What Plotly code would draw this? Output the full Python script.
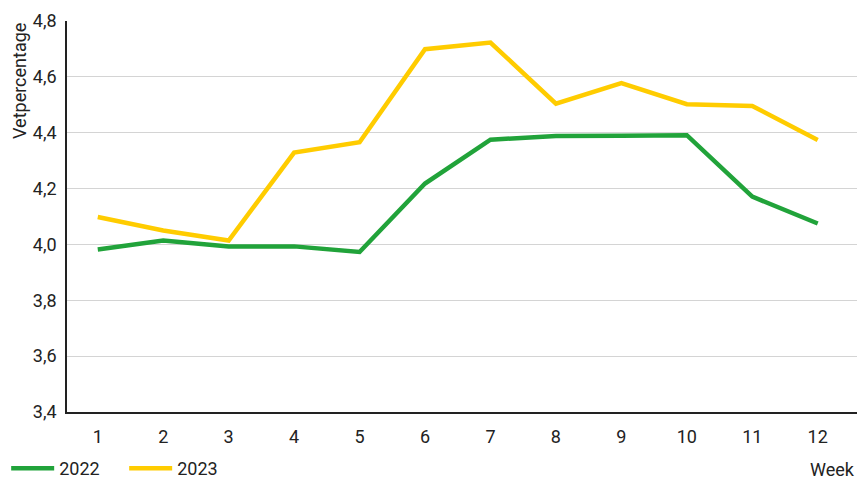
import plotly.graph_objects as go

weeks = list(range(1, 13))
tick_labels = [str(w) for w in weeks]
y_ticks = [3.4, 3.6, 3.8, 4.0, 4.2, 4.4, 4.6, 4.8]
y_tick_labels = ["3,4", "3,6", "3,8", "4,0", "4,2", "4,4", "4,6", "4,8"]
values_2022 = [3.982, 4.014, 3.993, 3.993, 3.973, 4.218, 4.375, 4.388, 4.389, 4.391, 4.171, 4.075]
values_2023 = [4.098, 4.050, 4.014, 4.329, 4.366, 4.699, 4.723, 4.504, 4.578, 4.502, 4.496, 4.374]

font = "Roboto, 'Liberation Sans', sans-serif"
fig = go.Figure()
fig.add_trace(go.Scatter(x=weeks, y=values_2022, mode="lines", name="2022",
                         line=dict(color="#21A33A", width=4.5)))
fig.add_trace(go.Scatter(x=weeks, y=values_2023, mode="lines", name="2023",
                         line=dict(color="#FFCC00", width=4.5)))

fig.update_layout(
    width=868, height=479,
    margin=dict(l=67, r=11, t=21, b=67, autoexpand=False),
    plot_bgcolor="white", paper_bgcolor="white",
    font=dict(family=font, size=18, color="#222"),
    showlegend=True,
    legend=dict(orientation="h", x=-0.077, y=-0.097, xanchor="left", yanchor="top",
                font=dict(size=18), itemwidth=43, entrywidth=60, entrywidthmode="pixels",
                traceorder="normal"),
    xaxis=dict(range=[0.53, 12.6], tickvals=weeks, ticktext=tick_labels,
               showgrid=False, showline=True, linecolor="#222", linewidth=1.5,
               ticks="", ticklabelstandoff=8, zeroline=False, automargin=False),
    yaxis=dict(range=[3.4, 4.8], tickvals=y_ticks, ticktext=y_tick_labels,
               showgrid=True, gridcolor="#d4d4d4", gridwidth=1,
               showline=True, linecolor="#222", linewidth=1.5, ticks="",
               ticklabelstandoff=5, zeroline=False, automargin=False),
    annotations=[
        dict(text="Week", xref="paper", yref="paper", x=1.0, y=-0.146,
             xanchor="right", yanchor="middle", showarrow=False, font=dict(size=18)),
        dict(text="Vetpercentage", xref="paper", yref="paper", x=-0.0608, y=1.0,
             xanchor="center", yanchor="top", textangle=-90, showarrow=False,
             font=dict(size=18)),
    ],
)
fig.write_html("out.html", config={"displayModeBar": False},
               post_script="document.body.style.margin='0';document.body.style.padding='0';")
